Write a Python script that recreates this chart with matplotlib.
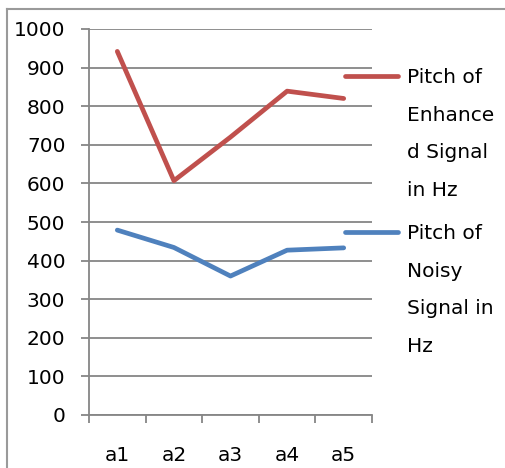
import matplotlib.pyplot as plt
from matplotlib.lines import Line2D

# dados
categorias = ['a1', 'a2', 'a3', 'a4', 'a5']
pitch_enhanced = [942, 607, 720, 839, 820]
pitch_noisy = [479, 434, 360, 427, 433]
labels = ['Pitch of\nEnhance\nd Signal\nin Hz', 'Pitch of\nNoisy\nSignal in\nHz']
cores = ['#C0504D', '#4F81BD']
grid_cor = '#868686'

plt.rcParams['font.family'] = ['DejaVu Sans']

fig = plt.figure(figsize=(5.06, 4.68), dpi=100)
ax = fig.add_axes([89 / 506, 53 / 468, 283 / 506, 386 / 468])

x = list(range(len(categorias)))
ax.plot(x, pitch_enhanced, color=cores[0], lw=3.4, solid_capstyle='round', zorder=3)
ax.plot(x, pitch_noisy, color=cores[1], lw=3.4, solid_capstyle='round', zorder=3)

ax.set_xlim(-0.5, len(categorias) - 0.5)
ax.set_ylim(0, 1000)
ax.set_yticks(range(0, 1001, 100))
ax.set_xticks(x)
ax.set_xticklabels(categorias)
ax.set_xticks([i - 0.5 for i in range(len(categorias) + 1)], minor=True)

ax.grid(axis='y', color=grid_cor, lw=1.3)
ax.set_axisbelow(True)
for s in ['top', 'right']:
    ax.spines[s].set_visible(False)
for s in ['left', 'bottom']:
    ax.spines[s].set_color(grid_cor)
    ax.spines[s].set_linewidth(1.3)

ax.tick_params(axis='y', length=6, color=grid_cor, width=1.3, pad=11, labelsize=14.5)
ax.tick_params(axis='x', which='major', length=0, pad=22, labelsize=14.5)
ax.tick_params(axis='x', which='minor', length=6, color=grid_cor, width=1.3)

# legenda manual ao lado
W, H = 506, 468
for i, (lab, c) in enumerate(zip(labels, cores)):
    y0 = 76 + i * 156
    fig.add_artist(Line2D([345 / W, 398 / W], [1 - y0 / H, 1 - y0 / H], color=c, lw=3.4,
                          solid_capstyle='round'))
    fig.text(407 / W, 1 - (y0 - 8) / H, lab, fontsize=14.5, va='top', ha='left',
             linespacing=2.25)

# borda do grafico
fig.add_artist(Line2D([7 / W, 7 / W], [0, 1 - 9 / H], color='#9a9a9a', lw=1.5))
fig.add_artist(Line2D([7 / W, 1.01], [1 - 9 / H, 1 - 9 / H], color='#9a9a9a', lw=1.5))

fig.savefig('out.png', dpi=100)
